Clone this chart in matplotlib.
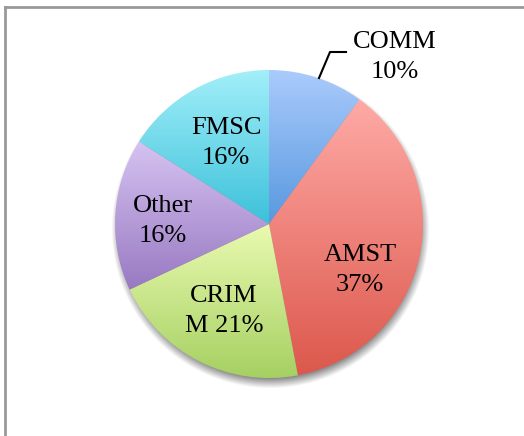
import numpy as np
import matplotlib.pyplot as plt
from matplotlib.colors import LinearSegmentedColormap

labels = ["COMM", "AMST", "CRIM", "Other", "FMSC"]
values = [10, 37, 21, 16, 16]
text_lines = [["COMM", "10%"], ["AMST", "37%"], ["CRIM", "M 21%"], ["Other", "16%"], ["FMSC", "16%"]]
top_colors = ["#aacbfc", "#ffaaa6", "#e9fab0", "#d6c3f1", "#a2eff9"]
bottom_colors = ["#5898df", "#dc584c", "#a6d062", "#9879c2", "#3cc1da"]

W, H = 524, 436
fig = plt.figure(figsize=(W / 100, H / 100), dpi=100)
ax = fig.add_axes([0, 0, 1, 1])
ax.set_xlim(0, W)
ax.set_ylim(0, H)
ax.axis("off")

cx, cy, r = 269, H - 224, 154

# soft shadow under the pie
yy, xx = np.mgrid[0:H, 0:W]
d = np.hypot(xx - cx - 1, (H - yy) - (cy - 5))
alpha = np.clip((r + 5 - d) / 10, 0, 1) * 0.45
shadow = np.zeros((H, W, 4))
shadow[..., 3] = alpha
ax.imshow(shadow, extent=[0, W, 0, H], zorder=1, interpolation="bilinear")

wedges, _ = ax.pie(values, center=(cx, cy), radius=r, startangle=90,
                   counterclock=False, frame=True,
                   wedgeprops=dict(linewidth=0, facecolor="none"))
ax.set_xlim(0, W)
ax.set_ylim(0, H)
ax.axis("off")

grad = np.linspace(1, 0, 256).reshape(-1, 1)
for w, c0, c1 in zip(wedges, top_colors, bottom_colors):
    bb = w.get_path().get_extents()
    cmap = LinearSegmentedColormap.from_list("g", [c1, c0])
    im = ax.imshow(grad, cmap=cmap, aspect="auto",
                   extent=[bb.x0, bb.x1, bb.y0, bb.y1], zorder=2)
    im.set_clip_path(w)
ax.set_xlim(0, W)
ax.set_ylim(0, H)

font = dict(family="Liberation Serif", fontsize=19, color="black", zorder=5)
positions = [(395, 42), (360, 255), (224, 296), (163, 206), (226, 128)]
for (x, y), lines in zip(positions, text_lines):
    ax.text(x, H - y, lines[0], ha="center", va="center", **font)
    ax.text(x, H - y - 30, lines[1], ha="center", va="center", **font)

# leader line for COMM
ax.plot([319, 330, 346], [H - 78, H - 52, H - 52], color="black", lw=1.5, zorder=5)

# chart frame
ax.plot([5, 5], [0, H - 7], color="#999999", lw=2, zorder=6)
ax.plot([5, W], [H - 7, H - 7], color="#999999", lw=2, zorder=6)

fig.savefig("out.png", dpi=100)
